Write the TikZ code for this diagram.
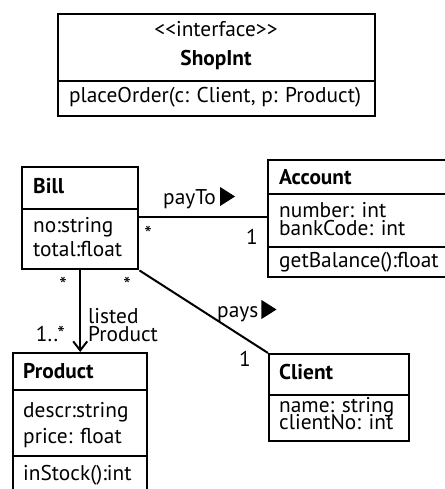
\documentclass[tikz,border=0pt]{standalone}
\usepackage{fontspec}
\setmainfont{PT Sans}
\usetikzlibrary{arrows.meta,calc}

% Size the type so that the operation line of ShopInt is 292pt wide
\newlength\oplinewidth
\settowidth\oplinewidth{\fontsize{10}{12}\selectfont placeOrder(c: Client, p: Product)}
\pgfmathsetmacro\umlfs{10*292/\oplinewidth}
\newcommand\umlfont{\fontsize{\umlfs pt}{23pt}\selectfont}

\begin{document}
\begin{tikzpicture}[x=1pt,y=-1pt,
  font=\umlfont,
  compart/.style={draw, line width=2.4pt, rectangle, inner sep=0pt, anchor=north west},
  txt/.style={inner sep=0pt, anchor=base west},
  ctxt/.style={inner sep=0pt, anchor=base},
  rtxt/.style={inner sep=0pt, anchor=base east},
  cname/.style={txt, font=\umlfont\bfseries},
  assoc/.style={line width=2pt},
  navarrow/.style={assoc, -{Straight Barb[length=9pt,width=14pt,line width=2pt]}},
  dirmark/.style={fill=black}
]
\useasboundingbox (0,0) rectangle (444,489);

% ShopInt interface
\node[compart, minimum width=317pt, minimum height=67pt] (shophead) at (57,13) {};
\node[compart, minimum width=317pt, minimum height=35pt] (shopops) at (57,80) {};
\node[ctxt] (shopster) at (216,37) {\mbox{<}\mbox{<}interface\mbox{>}\mbox{>}};
\node[ctxt, font=\umlfont\bfseries] (shopname) at (216,66) {ShopInt};
\node[ctxt] (shopop1) at (215,103) {placeOrder(c: Client, p: Product)};

% Bill
\node[compart, minimum width=116pt, minimum height=42pt] (billhead) at (21,166) {};
\node[compart, minimum width=116pt, minimum height=60pt] (billattr) at (21,208) {};
\node[cname] (billname) at (33,193) {Bill};
\node[txt] (billa1) at (33,232) {no:string};
\node[txt] (billa2) at (33,256) {total:float};

% Account
\node[compart, minimum width=180pt, minimum height=34pt] (acchead) at (267,159) {};
\node[compart, minimum width=180pt, minimum height=53pt] (accattr) at (267,193) {};
\node[compart, minimum width=180pt, minimum height=30pt] (accops) at (267,246) {};
\node[cname] (accname) at (279,184) {Account};
\node[txt] (acca1) at (279,217) {number: int};
\node[txt] (acca2) at (279,235) {bankCode: int};
\node[txt] (accop1) at (279,267) {getBalance():float};

% Client
\node[compart, minimum width=140pt, minimum height=41pt] (clihead) at (268,353) {};
\node[compart, minimum width=140pt, minimum height=46pt] (cliattr) at (268,394) {};
\node[cname] (cliname) at (279,379) {Client};
\node[txt] (clia1) at (279,412) {name: string};
\node[txt] (clia2) at (279,429) {clientNo: int};

% Product
\node[compart, minimum width=134pt, minimum height=37pt] (prodhead) at (12,352) {};
\node[compart, minimum width=134pt, minimum height=66pt] (prodattr) at (12,389) {};
\node[compart, minimum width=134pt, minimum height=45pt] (prodops) at (12,455) {};
\node[cname] (prodname) at (23,378) {Product};
\node[txt] (proda1) at (23,417) {descr:string};
\node[txt] (proda2) at (23,443) {price: float};
\node[txt] (prodop1) at (23,480) {inStock():int};

% Associations
\coordinate (paylevel) at (0,217);
\draw[assoc] (billattr.east |- paylevel) -- (accattr.west |- paylevel);
\draw[assoc] (billattr.south east) -- (clihead.north west);
\draw[navarrow] (billattr.south) -- (prodhead.north);

% Association names with reading direction
\node[txt] (paytolbl) at (163,204) {payTo};
\fill[dirmark] ($(paytolbl.base east)+(4,2)$) -- ++(0,-19) -- ++(15,9.5) -- cycle;
\node[txt] (payslbl) at (217,317) {pays};
\fill[dirmark] ($(payslbl.base east)+(3,2)$) -- ++(0,-19) -- ++(15,9.5) -- cycle;
\node[txt] (listedlbl) at (88,323) {listed};
\node[txt] (prodlbl) at (88,341) {Product};

% Multiplicities
\node[ctxt] (mbillpay) at (148,241) {*};
\node[ctxt] (maccpay) at (252,244) {1};
\node[ctxt] (mbilllist) at (63,292) {*};
\node[ctxt] (mbillpays) at (127,292) {*};
\node[rtxt] (mprodlist) at (65,341) {1..*};
\node[ctxt] (mclipays) at (245,366) {1};
\end{tikzpicture}
\end{document}
